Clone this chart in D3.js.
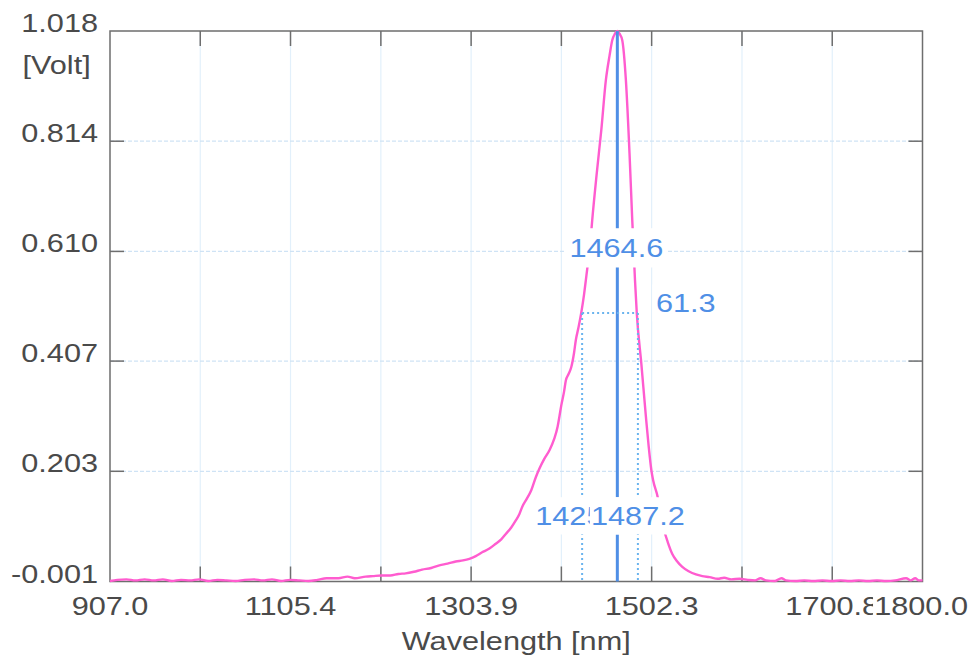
<!DOCTYPE html>
<html>
<head>
<meta charset="utf-8">
<script src="https://cdn.jsdelivr.net/npm/d3@7"></script>
<style>
body { margin: 0; background: #fff; }
text { font-family: "Liberation Sans", Arial, sans-serif; }
</style>
</head>
<body>
<script>
var width = 974,
    height = 663;
var plotLeft = 110, plotRight = 922.5, plotTop = 31, plotBottom = 581.5;

// spectrum
var wavelength = [
    907, 915, 925, 935, 945, 955, 965, 975, 985, 995,
    1005, 1015, 1025, 1035, 1045, 1055, 1065, 1075, 1085, 1095,
    1105, 1115, 1125, 1135, 1145, 1158, 1168, 1176, 1188, 1196,
    1205, 1215, 1224, 1232, 1241, 1250, 1260, 1269, 1278, 1287,
    1295, 1302, 1309, 1316, 1324, 1331, 1337, 1342, 1348, 1353,
    1357, 1360, 1365, 1370, 1375, 1379, 1384, 1390, 1395, 1399,
    1401, 1403, 1406, 1408, 1411, 1414, 1417, 1419, 1422, 1425,
    1428, 1430, 1432, 1435, 1437, 1442, 1447, 1452, 1456, 1459,
    1462, 1464.6, 1467, 1470, 1474, 1478, 1481, 1484, 1486, 1491,
    1496, 1499, 1502, 1504, 1509, 1512, 1516, 1520, 1525, 1530,
    1536, 1543, 1551, 1558, 1566, 1575, 1582, 1590, 1599, 1608,
    1616, 1622, 1628, 1638, 1645, 1650, 1660, 1670, 1680, 1690,
    1700, 1710, 1720, 1730, 1740, 1750, 1760, 1770, 1782, 1787,
    1792, 1796, 1800];
var volts = [
    0.000, 0.002, 0.003, 0.001, 0.003, 0.001, 0.003, 0.000, 0.002, 0.001,
    0.003, 0.000, 0.002, 0.001, 0.000, 0.002, 0.003, 0.001, 0.003, 0.000,
    0.002, 0.001, 0.000, 0.002, 0.005, 0.005, 0.008, 0.005, 0.008, 0.009,
    0.010, 0.010, 0.013, 0.014, 0.017, 0.021, 0.024, 0.029, 0.032, 0.036,
    0.038, 0.041, 0.046, 0.053, 0.060, 0.069, 0.077, 0.087, 0.099, 0.112,
    0.124, 0.137, 0.152, 0.168, 0.192, 0.208, 0.225, 0.242, 0.262, 0.286,
    0.305, 0.325, 0.350, 0.371, 0.383, 0.396, 0.422, 0.446, 0.470, 0.497,
    0.530, 0.557, 0.584, 0.628, 0.668, 0.755, 0.835, 0.927, 0.972, 1.001,
    1.013, 1.018, 1.013, 1.001, 0.927, 0.791, 0.668, 0.557, 0.495, 0.402,
    0.304, 0.250, 0.205, 0.186, 0.155, 0.125, 0.094, 0.072, 0.050, 0.037,
    0.026, 0.018, 0.012, 0.009, 0.007, 0.004, 0.006, 0.003, 0.004, 0.002,
    0.001, 0.005, 0.001, 0.000, 0.005, 0.001, 0.000, 0.001, 0.000, 0.001,
    0.000, 0.001, 0.000, 0.001, 0.000, 0.001, 0.000, 0.001, 0.005, 0.001,
    0.005, 0.001, 0.001];

var xTicks = [907.0, 1006.2, 1105.4, 1204.7, 1303.9, 1403.1, 1502.3, 1601.6, 1700.8, 1800.0];
var xLabelValues = [907.0, 1105.4, 1303.9, 1502.3, 1700.8, 1800.0];
var yTicks = [-0.001, 0.203, 0.407, 0.610, 0.814, 1.018];

// cursor readout
var peakNm = 1464.6;
var fwhm = 61.3;
var halfNm = [1425.9, 1487.2];
var halfLevel = 0.496;

var ink = "#4a4a4a",
    pink = "#ff5ccf",
    blue = "#4f8fe6";

var x = d3.scaleLinear().domain([907, 1800]).range([plotLeft, plotRight]);
var y = d3.scaleLinear().domain([-0.001, 1.018]).range([plotBottom, plotTop]);

var svg = d3.select("body").append("svg")
    .attr("width", width)
    .attr("height", height)
    .style("background", "#fff");

// horizontally stretched text, like the scanned print
function label(parent, px, py, str, anchor, color, bg) {
    var g = parent.append("g")
        .attr("transform", `translate(${px},${py}) scale(1.18,1)`);
    var t = g.append("text")
        .attr("text-anchor", anchor)
        .attr("font-size", 26)
        .attr("fill", color)
        .text(str);
    if (bg) {
        var b = t.node().getBBox();
        g.insert("rect", "text")
            .attr("x", b.x - bg[0])
            .attr("y", b.y - bg[1])
            .attr("width", b.width + 2 * bg[0])
            .attr("height", b.height + 2 * bg[1])
            .attr("fill", "#fff");
    }
    return g;
}

// grid
svg.append("g")
    .selectAll("line")
    .data(xTicks.slice(1, -1))
    .join("line")
    .attr("x1", d => x(d)).attr("x2", d => x(d))
    .attr("y1", plotTop).attr("y2", plotBottom)
    .attr("stroke", "#e2f0fb")
    .attr("stroke-width", 1.2);

svg.append("g")
    .selectAll("line")
    .data(yTicks.slice(1, -1))
    .join("line")
    .attr("x1", plotLeft).attr("x2", plotRight)
    .attr("y1", d => y(d)).attr("y2", d => y(d))
    .attr("stroke", "#cfe3f5")
    .attr("stroke-width", 1.2)
    .attr("stroke-dasharray", "4,2");

// frame and inward ticks
svg.append("rect")
    .attr("x", plotLeft).attr("y", plotTop)
    .attr("width", plotRight - plotLeft).attr("height", plotBottom - plotTop)
    .attr("fill", "none")
    .attr("stroke", "#6e6e6e")
    .attr("stroke-width", 1.5);

var ticks = svg.append("g")
    .attr("stroke", "#6e6e6e")
    .attr("stroke-width", 1.5);
ticks.selectAll(".tb")
    .data(xTicks.slice(1, -1))
    .join("line")
    .attr("class", "tb")
    .attr("x1", d => x(d)).attr("x2", d => x(d))
    .attr("y1", plotBottom).attr("y2", plotBottom - 15);
ticks.selectAll(".tt")
    .data(xTicks.slice(1, -1))
    .join("line")
    .attr("class", "tt")
    .attr("x1", d => x(d)).attr("x2", d => x(d))
    .attr("y1", plotTop).attr("y2", plotTop + 15);
ticks.selectAll(".tl")
    .data(yTicks.slice(1, -1))
    .join("line")
    .attr("class", "tl")
    .attr("x1", plotLeft).attr("x2", plotLeft + 14)
    .attr("y1", d => y(d)).attr("y2", d => y(d));
ticks.selectAll(".tr")
    .data(yTicks.slice(1, -1))
    .join("line")
    .attr("class", "tr")
    .attr("x1", plotRight).attr("x2", plotRight - 14)
    .attr("y1", d => y(d)).attr("y2", d => y(d));

// spectrum
svg.append("path")
    .datum(d3.zip(wavelength, volts))
    .attr("fill", "none")
    .attr("stroke", pink)
    .attr("stroke-width", 2.4)
    .attr("stroke-linejoin", "round")
    .attr("d", d3.line()
        .x(d => x(d[0]))
        .y(d => y(d[1]))
        .curve(d3.curveMonotoneX));

// peak cursor
svg.append("line")
    .attr("x1", x(peakNm)).attr("x2", x(peakNm))
    .attr("y1", plotTop).attr("y2", plotBottom)
    .attr("stroke", blue)
    .attr("stroke-width", 3);

// half-width cursors
var dots = svg.append("g")
    .attr("stroke", "#6ab4ee")
    .attr("stroke-width", 2)
    .attr("stroke-dasharray", "2,3");
dots.selectAll("line")
    .data(halfNm)
    .join("line")
    .attr("x1", d => x(d)).attr("x2", d => x(d))
    .attr("y1", y(halfLevel)).attr("y2", plotBottom);
dots.append("line")
    .attr("x1", x(halfNm[0])).attr("x2", x(halfNm[1]))
    .attr("y1", y(halfLevel)).attr("y2", y(halfLevel));

// cursor readouts
var fmt = d3.format(".1f");
label(svg, x(peakNm) - 1, 257, fmt(peakNm), "middle", blue, [3, 5]);
label(svg, x(halfNm[1]) + 18, y(halfLevel) - 1, fmt(fwhm), "start", blue, [3, 4]);
label(svg, x(halfNm[0]), 525, fmt(halfNm[0]), "middle", blue, [3, 4]);
label(svg, x(halfNm[1]), 525, fmt(halfNm[1]), "middle", blue, [1, 4]);

// axis labels (plain hyphen for the minus, as printed)
yTicks.forEach(function (v) {
    label(svg, 98, y(v) + 1, v.toFixed(3), "end", ink);
});
label(svg, 22.5, 74, "[Volt]", "start", ink);

xLabelValues.forEach(function (v, i) {
    if (i === xLabelValues.length - 1) {
        label(svg, 968, 615, v.toFixed(1), "end", ink, [1, 0]);
    } else {
        label(svg, x(v), 615, v.toFixed(1), "middle", ink);
    }
});
label(svg, (plotLeft + plotRight) / 2, 650, "Wavelength [nm]", "middle", ink);
</script>
</body>
</html>
